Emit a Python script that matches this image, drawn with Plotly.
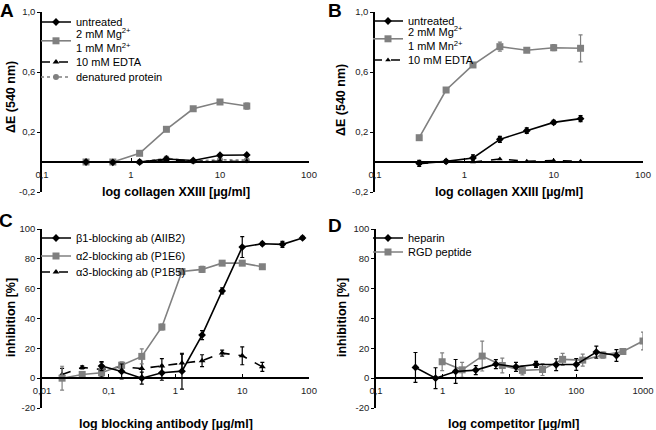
import plotly.graph_objects as go

W, H = 656, 430

# ---------------- data ----------------
conc_col = [0.3125, 0.625, 1.25, 2.5, 5, 10, 20]

A_untreated = [0.0, -0.002, 0.0, 0.02, 0.01, 0.045, 0.047]
A_untreated_err = [0, 0, 0, 0.004, 0.003, 0.006, 0.004]
A_mgmn = [0.0, 0.0, 0.058, 0.218, 0.355, 0.40, 0.373]
A_mgmn_err = [0, 0, 0, 0.004, 0.004, 0.008, 0.02]
A_edta = [0.0, 0.0, 0.0, 0.015, 0.005, 0.005, 0.003]
A_denat = [0.0, 0.0, 0.0, 0.025, 0.005, 0.015, 0.012]

B_untreated = [-0.009, 0.004, 0.027, 0.151, 0.209, 0.264, 0.289]
B_untreated_err = [0.02, 0.012, 0.02, 0.02, 0.018, 0.014, 0.02]
B_mgmn = [0.162, 0.48, 0.647, 0.769, 0.745, 0.762, 0.758]
B_mgmn_err = [0.005, 0.005, 0.008, 0.03, 0.015, 0.02, 0.09]
B_edta = [-0.012, 0.003, 0.0, 0.02, 0.005, 0.01, 0.005]

conc_b1 = [0.078, 0.156, 0.3125, 0.625, 1.25, 2.5, 5, 10, 20, 40, 80]
C_b1 = [8.1, 4.5, 0.0, 3.6, 4.7, 28.9, 58.5, 87.9, 90.1, 89.7, 94.0]
C_b1_err = [3, 5, 4, 5, 12, 3, 2, 7, 1, 2, 1]
conc_ab = [0.02, 0.04, 0.078, 0.156, 0.3125, 0.625, 1.25, 2.5, 5, 10, 20]
C_a2 = [0.0, 2.5, 3.6, 8.7, 14.6, 34.3, 71.5, 72.9, 77.1, 77.1, 74.7]
C_a2_err = [8, 1, 1, 2, 5, 2, 1, 2, 1, 1, 1]
C_a3 = [2.5, 7.2, 5.8, 7.6, 6.5, 8.1, 10.1, 11.7, 16.8, 15.0, 7.6]
C_a3_err = [4, 1, 5, 3, 7, 5, 6, 4, 2, 6, 3]

conc_hep = [0.39, 0.78, 1.56, 3.125, 6.25, 12.5, 25, 50, 100, 200, 400]
D_hep = [7.2, 0.0, 4.5, 5.4, 9.4, 7.6, 9.2, 9.0, 9.2, 17.5, 15.2]
D_hep_err = [10, 7, 8, 3, 3, 3, 2, 4, 4, 4, 4]
conc_rgd = [0.98, 1.95, 3.9, 7.8, 15.6, 31.25, 62.5, 125, 250, 500, 1000]
D_rgd = [11.0, 5.6, 14.8, 8.5, 5.2, 5.8, 12.6, 12.1, 15.5, 17.9, 24.9]
D_rgd_err = [6, 5, 10, 5, 3, 4, 4, 4, 2, 2, 6]

ABS_TICKS = [-0.2, 0.2, 0.6, 1.0]
ABS_TEXT = ["-0,2", "0,2", "0,6", "1,0"]
INH_TICKS = [-20, 0, 20, 40, 60, 80, 100]
INH_TEXT = ["-20", "0", "20", "40", "60", "80", "100"]

BLACK = "#000000"
GRAY = "#808080"
FONT = "Liberation Sans, Arial, sans-serif"

fig = go.Figure()


def px_x(p):
    return p / W


def px_y(p):
    return 1 - p / H


legend_layout = {}
legend_count = [0]
legfont = dict(family=FONT, size=11, color="#000")


def new_legend(lx, ly):
    legend_count[0] += 1
    n = legend_count[0]
    key = "legend" if n == 1 else f"legend{n}"
    legend_layout[key] = dict(
        x=px_x(lx), y=px_y(ly), xanchor="left", yanchor="middle",
        bgcolor="rgba(0,0,0,0)", font=legfont, itemwidth=30,
        borderwidth=0,
    )
    return key


def add(x, y, name, color, symbol, size, dash, xa, ya, leg, err=None, lw=1.6):
    fig.add_trace(go.Scatter(
        x=x, y=y, name=name, mode="lines+markers", showlegend=True,
        line=dict(color=color, width=lw, dash=dash),
        marker=dict(color=color, symbol=symbol, size=size),
        error_y=(dict(type="data", array=err, color=color, thickness=1.2, width=2)
                 if err is not None else None),
        xaxis=xa, yaxis=ya, legend=leg,
    ))


MGMN = "2 mM Mg<sup>2+</sup><br>1 mM Mn<sup>2+</sup>"
LXA, LXB = 36, 368

# Panel A
add(conc_col, A_denat, "denatured protein", GRAY, "circle", 6, "dot", "x", "y", new_legend(LXA, 77))
add(conc_col, A_edta, "10 mM EDTA", BLACK, "triangle-up", 6, "dash", "x", "y", new_legend(LXA, 62))
add(conc_col, A_mgmn, MGMN, GRAY, "square", 7, "solid", "x", "y", new_legend(LXA, 41), A_mgmn_err)
add(conc_col, A_untreated, "untreated", BLACK, "diamond", 6, "solid", "x", "y", new_legend(LXA, 22), A_untreated_err)

# Panel B
add(conc_col, B_edta, "10 mM EDTA", BLACK, "triangle-up", 5, "dash", "x2", "y2", new_legend(LXB, 60))
add(conc_col, B_mgmn, MGMN, GRAY, "square", 7, "solid", "x2", "y2", new_legend(LXB, 39), B_mgmn_err)
add(conc_col, B_untreated, "untreated", BLACK, "diamond", 6, "solid", "x2", "y2", new_legend(LXB, 21), B_untreated_err)

# Panel C
add(conc_ab, C_a3, "α3-blocking ab (P1B5)", BLACK, "triangle-up", 6, "dash", "x3", "y3", new_legend(LXA, 272), C_a3_err)
add(conc_ab, C_a2, "α2-blocking ab (P1E6)", GRAY, "square", 7, "solid", "x3", "y3", new_legend(LXA, 256), C_a2_err)
add(conc_b1, C_b1, "β1-blocking ab (AIIB2)", BLACK, "diamond", 6, "solid", "x3", "y3", new_legend(LXA, 238), C_b1_err)

# Panel D
add(conc_rgd, D_rgd, "RGD peptide", GRAY, "square", 7, "solid", "x4", "y4", new_legend(LXB, 252), D_rgd_err)
add(conc_hep, D_hep, "heparin", BLACK, "diamond", 6, "solid", "x4", "y4", new_legend(LXB, 238), D_hep_err)

# geometry (pixels)
panels = {
    "A": dict(x0=42, x1=309, ytop=12, ybot=192, yzero=162),
    "B": dict(x0=375, x1=643, ytop=12, ybot=192, yzero=162),
    "C": dict(x0=42, x1=309, ytop=229, ybot=408, yzero=378),
    "D": dict(x0=376, x1=643, ytop=229, ybot=408, yzero=378),
}

tickfont = dict(family=FONT, size=9.5, color="#222")


def xaxis(p, rng, tv, tt):
    return dict(
        type="log", range=rng, domain=[px_x(p["x0"]), px_x(p["x1"])],
        anchor="free", position=px_y(p["yzero"]),
        showline=True, linecolor="#000", linewidth=1.5,
        showgrid=False, zeroline=False,
        tickvals=tv, ticktext=tt, ticks="inside", ticklen=3, tickcolor="#000",
        tickfont=tickfont, automargin=False, ticklabelstandoff=4,
    )


def yaxis(p, rng, tv, tt, xa):
    return dict(
        range=rng, domain=[px_y(p["ybot"]), px_y(p["ytop"])],
        anchor=xa, showline=True, linecolor="#000", linewidth=1.5,
        showgrid=False, zeroline=False,
        tickvals=tv, ticktext=tt, ticks="outside", ticklen=3, tickcolor="#000",
        tickfont=tickfont, automargin=False,
    )


fig.update_layout(
    width=W, height=H, margin=dict(l=0, r=0, t=0, b=0),
    paper_bgcolor="white", plot_bgcolor="white", showlegend=True,
    font=dict(family=FONT, color="#000"),
    xaxis=xaxis(panels["A"], [-1, 2], [0.1, 1, 10, 100], ["0,1", "1", "10", "100"]),
    yaxis=yaxis(panels["A"], [-0.2, 1.0], ABS_TICKS, ABS_TEXT, "x"),
    xaxis2=xaxis(panels["B"], [-1, 2], [0.1, 1, 10, 100], ["0,1", "1", "10", "100"]),
    yaxis2=yaxis(panels["B"], [-0.2, 1.0], ABS_TICKS, ABS_TEXT, "x2"),
    xaxis3=xaxis(panels["C"], [-2, 2], [0.01, 0.1, 1, 10, 100], ["0,01", "0,1", "1", "10", "100"]),
    yaxis3=yaxis(panels["C"], [-20, 100], INH_TICKS, INH_TEXT, "x3"),
    xaxis4=xaxis(panels["D"], [-1, 3], [0.1, 1, 10, 100, 1000], ["0,1", "1", "10", "100", "1000"]),
    yaxis4=yaxis(panels["D"], [-20, 100], INH_TICKS, INH_TEXT, "x4"),
    **legend_layout,
)

titlefont = dict(family=FONT, size=12.5, color="#000")
annos = [
    ("log collagen XXIII [µg/ml]", 176, 192, 0),
    ("log collagen XXIII [µg/ml]", 509, 192, 0),
    ("log blocking antibody [µg/ml]", 166, 424, 0),
    ("log competitor [µg/ml]", 514, 424, 0),
    ("ΔE (540 nm)", 11, 97, -90),
    ("ΔE (540 nm)", 341, 100, -90),
    ("inhibition [%]", 11, 318, -90),
    ("inhibition [%]", 342, 318, -90),
]
for text, ax, ay, rot in annos:
    fig.add_annotation(text=f"<b>{text}</b>", x=px_x(ax), y=px_y(ay),
                       xref="paper", yref="paper", showarrow=False,
                       textangle=rot, font=titlefont,
                       xanchor="center", yanchor="middle")

for letter, ax, ay in [("A", 7, 10), ("B", 335, 10), ("C", 6, 220), ("D", 335, 225)]:
    fig.add_annotation(text=f"<b>{letter}</b>", x=px_x(ax), y=px_y(ay),
                       xref="paper", yref="paper", showarrow=False,
                       font=dict(family=FONT, size=19, color="#000"),
                       xanchor="center", yanchor="middle")

fig.write_html("out.html", config={"displayModeBar": False},
               post_script="document.body.style.margin='0px';document.body.style.overflow='hidden';")
